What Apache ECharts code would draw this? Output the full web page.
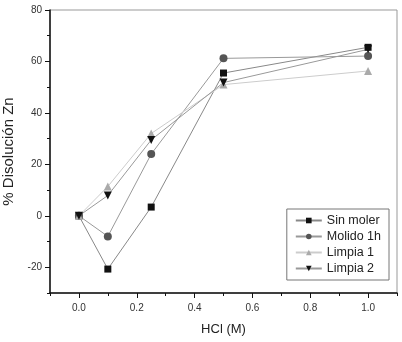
<!DOCTYPE html>
<html>
<head>
<meta charset="utf-8">
<script src="https://cdn.jsdelivr.net/npm/echarts@6/dist/echarts.min.js"></script>
<style>
  html, body { margin: 0; padding: 0; background: #fff; }
  #chart { width: 402px; height: 342px; }
</style>
</head>
<body>
<div id="chart"></div>
<script>
// datos
var hcl = [0, 0.1, 0.25, 0.5, 1.0];
var sinMoler = [0, -20.7, 3.4, 55.5, 65.5];
var molido1h = [0, -8, 24, 61.2, 62.1];
var limpia1 = [0, 11.4, 32, 51, 56.3];
var limpia2 = [0, 7.9, 29.5, 51.8, 64.7];

var xMajor = [0, 0.2, 0.4, 0.6, 0.8, 1.0];
var xMinor = [-0.1, 0.1, 0.3, 0.5, 0.7, 0.9, 1.1];
var yMajor = [-20, 0, 20, 40, 60, 80];
var yMinor = [-30, -10, 10, 30, 50, 70];

function pares(ys) {
  var out = [];
  for (let i = 0; i < hcl.length; i++) {
    out.push([hcl[i], ys[i]]);
  }
  return out;
}

var myChart = echarts.init(document.getElementById('chart'));
var fuente = 'Liberation Sans, Arial, sans-serif';

function serie(nombre, ys, simbolo, colorMarca, colorLinea, rot) {
  return {
    name: nombre,
    type: 'line',
    data: pares(ys),
    symbol: simbolo,
    symbolSize: simbolo == 'rect' ? 7 : 8,
    symbolRotate: rot || 0,
    itemStyle: { color: colorMarca },
    lineStyle: { color: colorLinea, width: 1 },
    animation: false
  };
}

var option = {
  animation: false,
  grid: {
    left: 50, right: 5, top: 10, bottom: 49,
    outerBoundsMode: 'none',
    containLabel: false,
    show: true, borderColor: '#999', borderWidth: 1
  },
  legend: {
    orient: 'vertical',
    right: 13, top: 209,
    backgroundColor: '#fff',
    borderColor: '#777', borderWidth: 1,
    padding: [5, 8, 5, 8],
    itemGap: 3,
    itemWidth: 26, itemHeight: 7,
    textStyle: { fontFamily: fuente, fontSize: 12.5, color: '#222', padding: [2, 0, 2, 0] },
    data: ['Sin moler', 'Molido 1h', 'Limpia 1', 'Limpia 2']
  },
  xAxis: [{
    type: 'value', min: -0.1, max: 1.1,
    name: 'HCl (M)', nameLocation: 'middle', nameGap: 30,
    nameTextStyle: { fontFamily: fuente, fontSize: 13, color: '#222' },
    axisLine: { onZero: false, lineStyle: { color: '#111', width: 1.5 } },
    axisTick: { customValues: xMajor, length: 5, lineStyle: { color: '#111' } },
    axisLabel: {
      customValues: xMajor, margin: 10,
      fontFamily: fuente, fontSize: 10, color: '#333',
      formatter: function (v) { return v.toFixed(1); }
    },
    splitLine: { show: false }
  }, {
    type: 'value', min: -0.1, max: 1.1, position: 'bottom',
    axisLine: { show: false, onZero: false },
    axisTick: { customValues: xMinor, length: 3, lineStyle: { color: '#111' } },
    axisLabel: { show: false },
    splitLine: { show: false }
  }],
  yAxis: [{
    type: 'value', min: -30, max: 80,
    name: '% Disolución Zn', nameLocation: 'middle', nameGap: 26,
    nameTextStyle: { fontFamily: fuente, fontSize: 15, color: '#222' },
    axisLine: { show: true, onZero: false, lineStyle: { color: '#111', width: 1.5 } },
    axisTick: { show: true, customValues: yMajor, length: 5, lineStyle: { color: '#111' } },
    axisLabel: {
      customValues: yMajor, margin: 8,
      fontFamily: fuente, fontSize: 10, color: '#333'
    },
    splitLine: { show: false }
  }, {
    type: 'value', min: -30, max: 80, position: 'left',
    axisLine: { show: false, onZero: false },
    axisTick: { show: true, customValues: yMinor, length: 3, lineStyle: { color: '#111' } },
    axisLabel: { show: false },
    splitLine: { show: false }
  }],
  series: [
    serie('Sin moler', sinMoler, 'rect', '#111', '#888'),
    serie('Molido 1h', molido1h, 'circle', '#555', '#999'),
    serie('Limpia 1', limpia1, 'triangle', '#aaa', '#ccc'),
    serie('Limpia 2', limpia2, 'triangle', '#111', '#999', 180)
  ]
};
option && myChart.setOption(option);
</script>
</body>
</html>
